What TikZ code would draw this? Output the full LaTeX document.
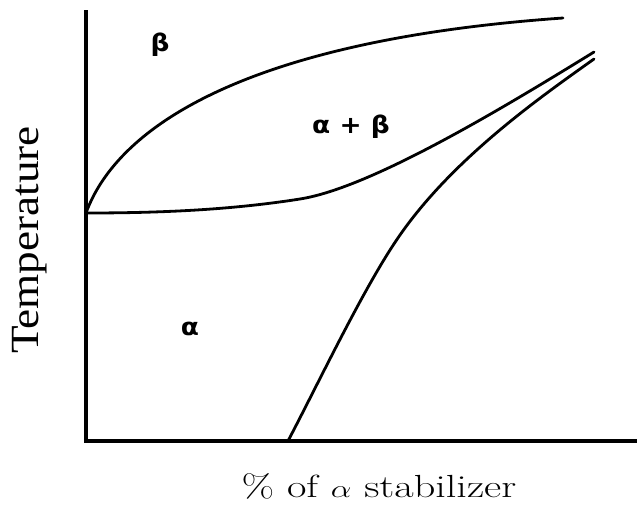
\documentclass[tikz,border=0pt]{standalone}
\usepackage{fontspec}
\usepackage{tikz}
\usetikzlibrary{positioning}
\newfontfamily\phasefont{DejaVu Sans}[BoldFont={DejaVu Sans Bold}]
\newfontfamily\axisfont{Liberation Serif}
\definecolor{ink}{HTML}{000000}

\begin{document}
\begin{tikzpicture}[x=1pt,y=-1pt,
  axis/.style={draw=ink,line width=3.2pt},
  phase/.style={draw=ink,line width=2.8pt,line cap=round},
  region/.style={font=\phasefont\bfseries\fontsize{24}{28}\selectfont,color=ink,inner sep=0pt,xscale=1.1},
  lbl/.style={color=ink,inner sep=0pt}]
  \useasboundingbox (0,0) rectangle (637,506);
  % axes
  \coordinate (top) at (86,10);
  \coordinate (org) at (86,441);
  \coordinate (right) at (637,441);
  \draw[axis] (top) -- (org) -- (right);
  % phase boundaries
  \coordinate (tr) at (86,213);
  \coordinate (bend) at (300,199);
  \coordinate (knee) at (400,235);
  \draw[phase] (tr) .. controls (118,125) and (250,40) .. (563,18);
  \draw[phase] (tr) .. controls (160,213) and (230,210) .. (bend)
    .. controls (370,188) and (500,110) .. (594,52);
  \draw[phase] (288,441) .. controls (320,380) and (365,285) .. (knee)
    .. controls (455,156) and (545,94) .. (594,59);
  % regions
  \node[region] (beta) at (160,45) {β};
  \node[region] (mix) at (351,127) {α + β};
  \node[region] (alpha) at (190,329) {α};
  % axis labels
  \node[lbl,rotate=90,xscale=1.13,font=\axisfont\fontsize{40}{44}\selectfont] (temp) at (30,240) {Temperature};
  \node[lbl,xscale=1.32,font=\fontsize{32}{36}\selectfont] (comp) at (379,486) {\% of $\alpha$ stabilizer};
\end{tikzpicture}
\end{document}
